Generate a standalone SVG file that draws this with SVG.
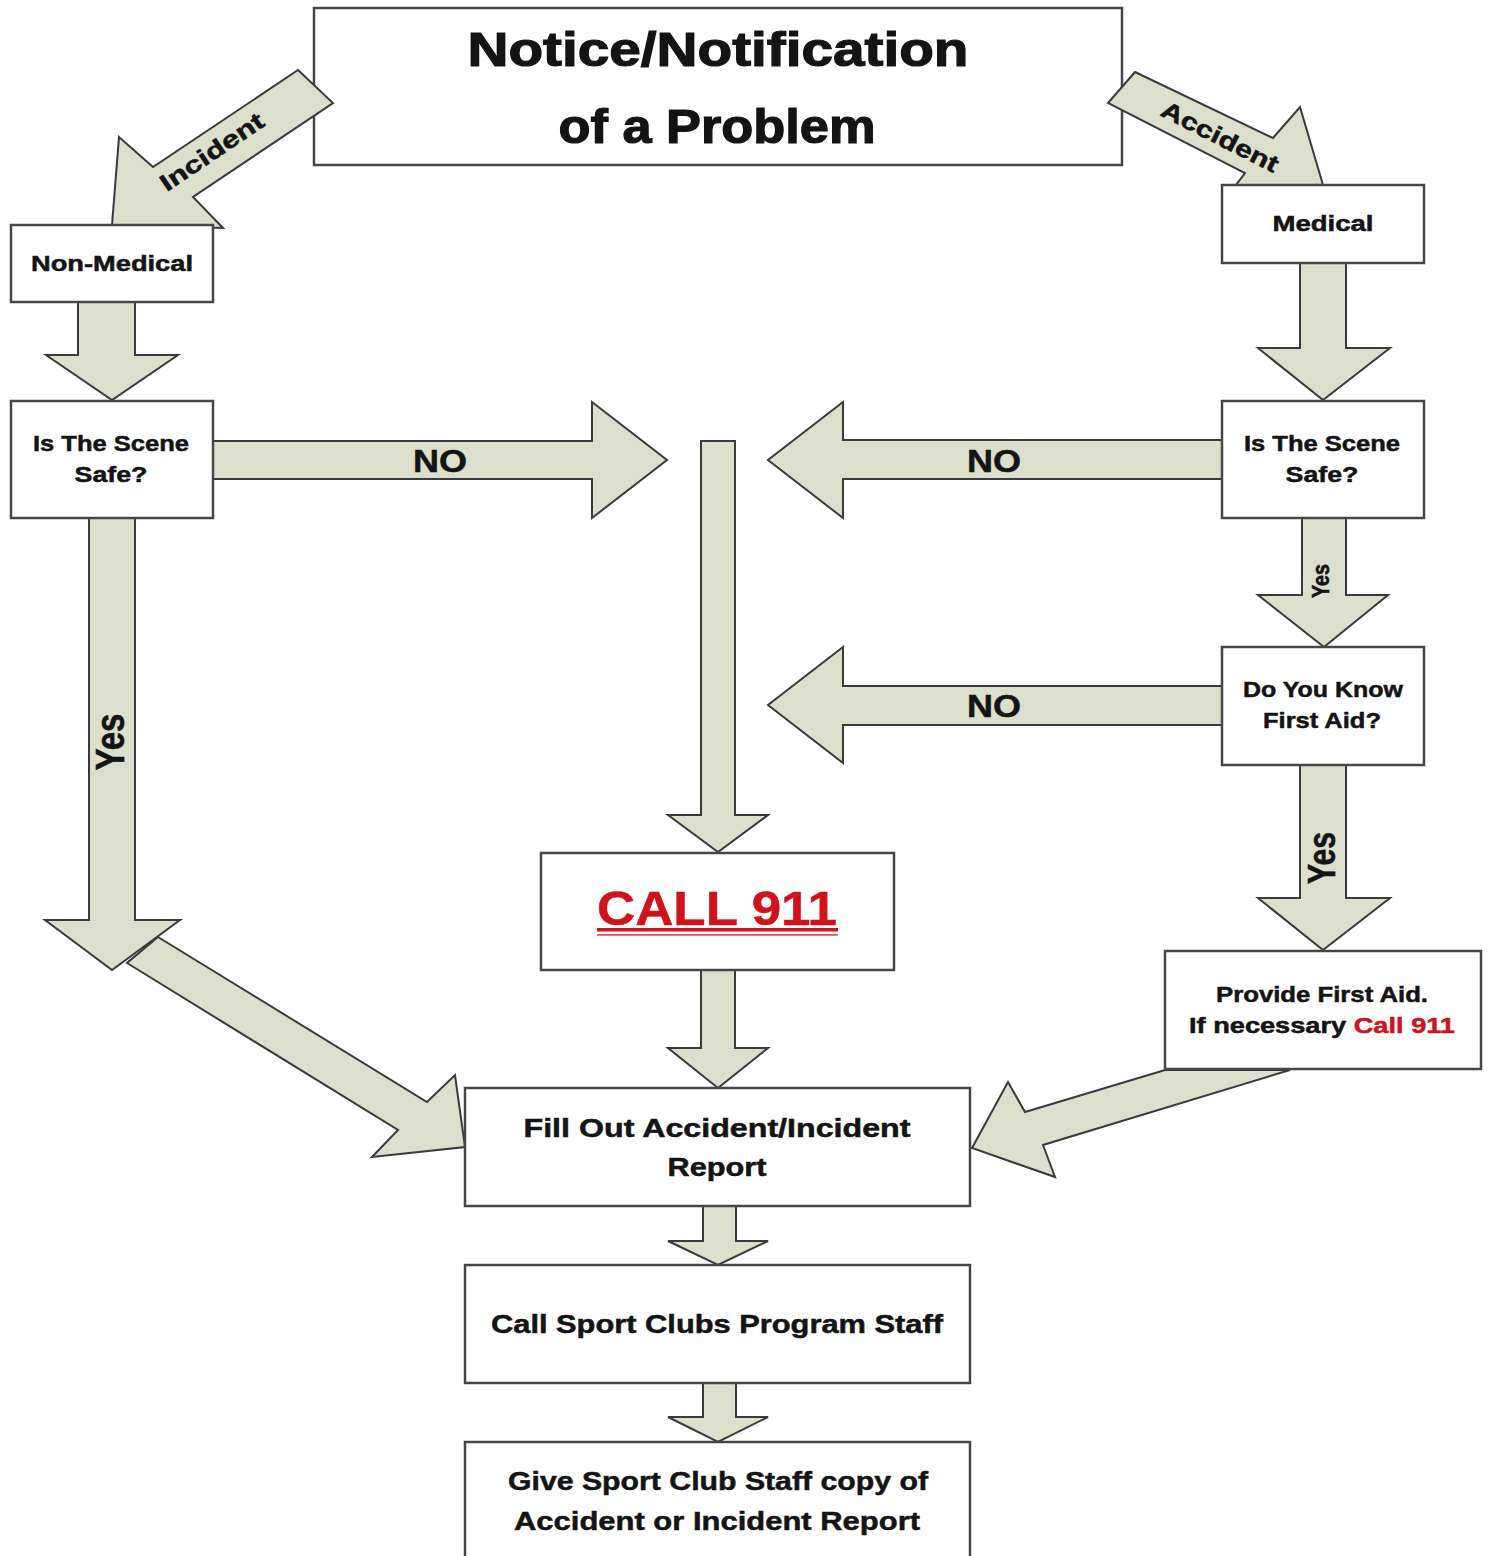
<svg xmlns="http://www.w3.org/2000/svg" width="1490" height="1556" viewBox="0 0 1490 1556">
<style>
.box{fill:#fff;stroke:#474747;stroke-width:2.5}
.arr{fill:#dcdfcb;stroke:#3a3a3a;stroke-width:2;stroke-linejoin:miter}
.t{font-family:"Liberation Sans",Arial,sans-serif;font-weight:bold;fill:#141414;text-anchor:middle;stroke:#141414;stroke-width:0.5}
.n{font-family:"Liberation Sans Narrow","Liberation Sans",Arial,sans-serif;font-weight:bold;fill:#141414;text-anchor:middle;stroke:#141414;stroke-width:0.6}
.red{fill:#d0121b;stroke:#d0121b}
.big{stroke-width:1.2}
</style>
<rect width="1490" height="1556" fill="#fff"/>

<g id="top">
<rect class="box" x="314" y="8" width="808" height="157"/>
<text class="t big" x="718" y="66" font-size="48" textLength="501" lengthAdjust="spacingAndGlyphs">Notice/Notification</text>
<text class="t big" x="717" y="143" font-size="48" textLength="317" lengthAdjust="spacingAndGlyphs">of a Problem</text>
</g>

<g id="connectors">
<polygon class="arr" points="298,70 333,103 193,197 223,228 112,225 119,137 153,167"/>
<text class="t" font-size="24" transform="translate(212,152) rotate(-34)" dy="8" textLength="120" lengthAdjust="spacingAndGlyphs">Incident</text>
<polygon class="arr" points="1135,72 1273,138 1300,107 1323,185 1223,202 1245,173 1108,103"/>
<text class="t" font-size="24" transform="translate(1220,137) rotate(27)" dy="8" textLength="128" lengthAdjust="spacingAndGlyphs">Accident</text>
<polygon class="arr" points="78,302 135,302 135,355 178,355 112,400 46,355 78,355"/>
<polygon class="arr" points="1300,263 1346,263 1346,348 1390,348 1323,400 1258,348 1300,348"/>
<polygon class="arr" points="213,441 592,441 592,402 667,460 592,518 592,479 213,479"/>
<text class="t" x="440" y="472" font-size="32" textLength="54" lengthAdjust="spacingAndGlyphs">NO</text>
<polygon class="arr" points="1222,440 843,440 843,402 768,460 843,518 843,479 1222,479"/>
<text class="t" x="994" y="472" font-size="32" textLength="54" lengthAdjust="spacingAndGlyphs">NO</text>
<polygon class="arr" points="1222,686 843,686 843,647 768,705 843,763 843,725 1222,725"/>
<text class="t" x="994" y="717" font-size="32" textLength="54" lengthAdjust="spacingAndGlyphs">NO</text>
<polygon class="arr" points="701,441 735,441 735,815 768,815 718,852 668,815 701,815"/>
<polygon class="arr" points="1302,518 1346,518 1346,595 1388,595 1324,647 1258,595 1302,595"/>
<text class="n" font-size="24" transform="translate(1321,581) rotate(-90)" dy="8" textLength="34" lengthAdjust="spacingAndGlyphs">Yes</text>
<polygon class="arr" points="1300,765 1346,765 1346,898 1390,898 1323,950 1258,898 1300,898"/>
<text class="n" font-size="38" transform="translate(1322,858) rotate(-90)" dy="13" textLength="52" lengthAdjust="spacingAndGlyphs">Yes</text>
<polygon class="arr" points="89,518 135,518 135,920 180,920 112,970 45,920 89,920"/>
<text class="n" font-size="40" transform="translate(110,742) rotate(-90)" dy="14" textLength="57" lengthAdjust="spacingAndGlyphs">Yes</text>
<polygon class="arr" points="158,937 427,1102 455,1075 465,1147 372,1157 398,1130 127,963"/>
<polygon class="arr" points="1165,1070 1290,1070 1043,1145 1055,1177 972,1148 1008,1082 1025,1112"/>
<polygon class="arr" points="701,970 735,970 735,1048 768,1048 718,1088 668,1048 701,1048"/>
<polygon class="arr" points="703,1206 736,1206 736,1241 768,1241 718,1265 668,1241 703,1241"/>
<polygon class="arr" points="703,1383 736,1383 736,1417 768,1417 718,1442 668,1417 703,1417"/>
</g>

<g id="nonmedical">
<rect class="box" x="11" y="225" width="202" height="77"/>
<text class="t" x="112" y="271" font-size="22" textLength="162" lengthAdjust="spacingAndGlyphs">Non-Medical</text>
</g>

<g id="medical">
<rect class="box" x="1222" y="185" width="202" height="78"/>
<text class="t" x="1323" y="231" font-size="22" textLength="101" lengthAdjust="spacingAndGlyphs">Medical</text>
</g>

<g id="scene-left">
<rect class="box" x="11" y="401" width="202" height="117"/>
<text class="t" x="111" y="451" font-size="22" textLength="156" lengthAdjust="spacingAndGlyphs">Is The Scene</text>
<text class="t" x="111" y="482" font-size="22" textLength="73" lengthAdjust="spacingAndGlyphs">Safe?</text>
</g>

<g id="scene-right">
<rect class="box" x="1222" y="401" width="202" height="117"/>
<text class="t" x="1322" y="451" font-size="22" textLength="156" lengthAdjust="spacingAndGlyphs">Is The Scene</text>
<text class="t" x="1322" y="482" font-size="22" textLength="73" lengthAdjust="spacingAndGlyphs">Safe?</text>
</g>

<g id="firstaid-q">
<rect class="box" x="1222" y="647" width="202" height="118"/>
<text class="t" x="1323" y="697" font-size="22" textLength="160" lengthAdjust="spacingAndGlyphs">Do You Know</text>
<text class="t" x="1322" y="728" font-size="22" textLength="118" lengthAdjust="spacingAndGlyphs">First Aid?</text>
</g>

<g id="call911">
<rect class="box" x="541" y="853" width="353" height="117"/>
<text class="t red" x="717" y="925" font-size="49" stroke-width="1.8" textLength="240" lengthAdjust="spacingAndGlyphs">CALL 911</text>
<rect x="597" y="928" width="241" height="3.5" fill="#d0121b"/>
<rect x="597" y="934" width="241" height="1.8" fill="#e0565c"/>
</g>

<g id="provide">
<rect class="box" x="1165" y="951" width="316" height="118"/>
<text class="t" x="1322" y="1002" font-size="22" textLength="212" lengthAdjust="spacingAndGlyphs">Provide First Aid.</text>
<text class="t" x="1322" y="1033" font-size="22" textLength="266" lengthAdjust="spacingAndGlyphs">If necessary <tspan class="red">Call 911</tspan></text>
</g>

<g id="fillout">
<rect class="box" x="465" y="1088" width="505" height="118"/>
<text class="t" x="717" y="1137" font-size="26" textLength="387" lengthAdjust="spacingAndGlyphs">Fill Out Accident/Incident</text>
<text class="t" x="717" y="1176" font-size="26" textLength="99" lengthAdjust="spacingAndGlyphs">Report</text>
</g>

<g id="callstaff">
<rect class="box" x="465" y="1265" width="505" height="118"/>
<text class="t" x="717" y="1333" font-size="26" textLength="452" lengthAdjust="spacingAndGlyphs">Call Sport Clubs Program Staff</text>
</g>

<g id="givecopy">
<rect class="box" x="465" y="1442" width="505" height="130"/>
<text class="t" x="718" y="1490" font-size="26" textLength="420" lengthAdjust="spacingAndGlyphs">Give Sport Club Staff copy of</text>
<text class="t" x="717" y="1530" font-size="26" textLength="406" lengthAdjust="spacingAndGlyphs">Accident or Incident Report</text>
</g>
</svg>
